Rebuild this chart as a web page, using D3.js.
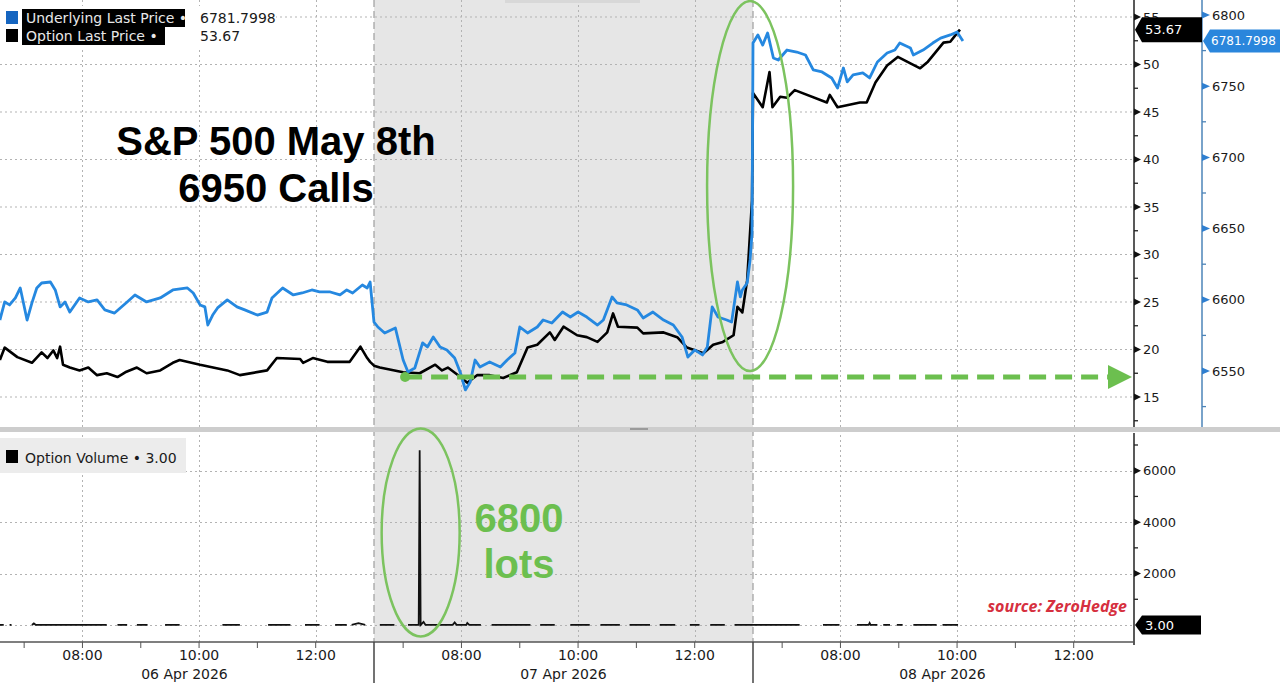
<!DOCTYPE html>
<html>
<head>
<meta charset="utf-8">
<script src="https://cdn.jsdelivr.net/npm/d3@7"></script>
<style>
  body { margin: 0; background: #fff; }
  svg { display: block; font-family: "DejaVu Sans", sans-serif; }
</style>
</head>
<body>
<svg id="chart" width="1280" height="683"></svg>
<script>
// ---- data (times are "MM-DD HH:MM", session runs 06:30-13:00 each day)
const days = ["06 Apr 2026", "07 Apr 2026", "08 Apr 2026"];
const hourTicks = [7, 8, 9, 10, 11, 12];
const hourLabels = ["08:00", "10:00", "12:00"];
const optionTicks = [15, 20, 25, 30, 35, 40, 45, 50, 55];
const underlyingTicks = [6550, 6600, 6650, 6700, 6750, 6800];
const volumeTicks = [2000, 4000, 6000];

const underlyingTime = [
  "04-06 06:35","04-06 06:40","04-06 06:45","04-06 06:51","04-06 06:56","04-06 07:03","04-06 07:08","04-06 07:13",
  "04-06 07:18","04-06 07:27","04-06 07:32","04-06 07:37","04-06 07:42","04-06 07:47","04-06 07:57","04-06 08:06",
  "04-06 08:15","04-06 08:23","04-06 08:33","04-06 08:46","04-06 08:54","04-06 09:06","04-06 09:20","04-06 09:33",
  "04-06 09:48","04-06 09:54","04-06 10:01","04-06 10:06","04-06 10:09","04-06 10:14","04-06 10:19","04-06 10:29",
  "04-06 10:39","04-06 10:47","04-06 11:00","04-06 11:10","04-06 11:15","04-06 11:26","04-06 11:37","04-06 11:46",
  "04-06 11:56","04-06 12:04","04-06 12:15","04-06 12:25","04-06 12:32","04-06 12:38","04-06 12:48","04-06 12:53",
  "04-06 12:56",
  "04-07 06:30","04-07 06:34","04-07 06:41","04-07 06:52","04-07 07:00","04-07 07:05","04-07 07:12","04-07 07:20",
  "04-07 07:25","04-07 07:31","04-07 07:38","04-07 07:45","04-07 07:53","04-07 07:59","04-07 08:04","04-07 08:09",
  "04-07 08:14","04-07 08:19","04-07 08:29","04-07 08:40","04-07 08:47","04-07 08:55","04-07 09:00","04-07 09:08",
  "04-07 09:18","04-07 09:24","04-07 09:33","04-07 09:44","04-07 09:52","04-07 10:00","04-07 10:09","04-07 10:20",
  "04-07 10:26","04-07 10:35","04-07 10:40","04-07 10:50","04-07 11:01","04-07 11:07","04-07 11:17","04-07 11:28",
  "04-07 11:38","04-07 11:47","04-07 11:53","04-07 12:00","04-07 12:08","04-07 12:13","04-07 12:18","04-07 12:24",
  "04-07 12:33","04-07 12:38","04-07 12:44","04-07 12:47","04-07 12:49","04-07 12:54","04-07 12:57","04-07 12:59",
  "04-08 06:30","04-08 06:35","04-08 06:40","04-08 06:45","04-08 06:51","04-08 06:56","04-08 07:05","04-08 07:15",
  "04-08 07:24","04-08 07:32","04-08 07:41","04-08 07:51","04-08 07:57","04-08 08:03","04-08 08:07","04-08 08:13",
  "04-08 08:23","04-08 08:30","04-08 08:38","04-08 08:48","04-08 08:56","04-08 09:01","04-08 09:12","04-08 09:15",
  "04-08 09:25","04-08 09:35","04-08 09:43","04-08 09:53","04-08 10:00","04-08 10:06"
];
const underlyingValue = [
  6585.8,6598.5,6596.4,6601.3,6608.3,6585.8,6597.8,6608.3,
  6611.8,6612.5,6606.9,6595.0,6598.5,6591.4,6601.3,6598.5,
  6599.9,6592.9,6590.7,6598.5,6603.4,6598.5,6601.3,6606.9,
  6608.3,6604.8,6596.4,6595.0,6582.3,6589.3,6594.3,6599.9,
  6595.0,6592.9,6589.3,6591.4,6601.3,6608.3,6603.4,6604.8,
  6606.9,6605.5,6605.5,6603.4,6606.9,6604.8,6610.4,6608.3,
  6612.5,
  6584.4,6580.9,6576.7,6580.2,6557.7,6549.3,6552.1,6569.7,
  6566.9,6573.9,6566.9,6564.8,6559.1,6548.6,6536.7,6542.3,
  6557.7,6552.8,6556.3,6552.8,6557.7,6562.7,6580.9,6576.7,
  6580.9,6585.8,6583.7,6591.4,6587.9,6591.4,6587.9,6582.3,
  6585.8,6602.0,6597.8,6596.4,6592.9,6587.2,6591.4,6585.8,
  6582.3,6573.9,6559.8,6564.8,6561.3,6566.9,6595.0,6587.9,
  6585.8,6584.4,6612.5,6602.0,6606.9,6611.8,6628.0,6646.9,
  6780.3,6786.0,6778.9,6787.4,6769.8,6768.4,6775.4,6774.0,
  6771.9,6761.4,6760.0,6755.8,6748.7,6762.8,6753.0,6757.9,
  6759.3,6755.8,6767.0,6773.3,6775.4,6780.3,6776.8,6771.9,
  6775.4,6780.3,6783.8,6786.0,6788.1,6781.7998
];

const optionTime = [
  "04-06 06:35","04-06 06:40","04-06 06:53","04-06 07:08","04-06 07:18","04-06 07:24","04-06 07:30","04-06 07:34",
  "04-06 07:37","04-06 07:40","04-06 07:47","04-06 07:57","04-06 08:06","04-06 08:15","04-06 08:25","04-06 08:36",
  "04-06 08:44","04-06 08:56","04-06 09:06","04-06 09:20","04-06 09:33","04-06 09:40","04-06 10:01","04-06 10:29",
  "04-06 10:42","04-06 11:10","04-06 11:20","04-06 11:44","04-06 11:47","04-06 11:57","04-06 12:12","04-06 12:35",
  "04-06 12:46","04-06 12:53","04-06 12:56",
  "04-07 06:30","04-07 06:36","04-07 07:00","04-07 07:17","04-07 07:33","04-07 07:40","04-07 07:46","04-07 07:59",
  "04-07 08:06","04-07 08:16","04-07 08:29","04-07 08:43","04-07 08:57","04-07 09:08","04-07 09:18","04-07 09:31",
  "04-07 09:36","04-07 09:45","04-07 09:59","04-07 10:09","04-07 10:20","04-07 10:30","04-07 10:36","04-07 10:41",
  "04-07 11:01","04-07 11:07","04-07 11:28","04-07 11:42","04-07 11:52","04-07 12:09","04-07 12:19","04-07 12:29",
  "04-07 12:40","04-07 12:44","04-07 12:49","04-07 12:54","04-07 12:59",
  "04-08 06:30","04-08 06:40","04-08 06:47","04-08 06:50","04-08 06:58","04-08 07:05","04-08 07:13","04-08 07:46",
  "04-08 07:49","04-08 07:57","04-08 08:20","04-08 08:27","04-08 08:36","04-08 08:48","04-08 08:59","04-08 09:22",
  "04-08 09:30","04-08 09:46","04-08 09:53","04-08 10:00","04-08 10:03"
];
const optionValue = [
  18.9,20.2,19.2,18.6,19.7,19.1,19.9,19.1,
  20.3,18.4,18.1,17.8,18.1,17.3,17.5,17.1,
  17.6,18.1,17.5,17.8,18.6,18.9,18.4,17.8,
  17.3,17.8,19.1,19.0,18.6,19.1,18.7,18.7,
  20.3,19.1,18.7,
  18.3,18.1,17.6,17.5,18.4,17.8,18.1,17.1,
  16.5,17.3,17.3,17.0,17.6,20.2,20.5,21.8,
  21.0,22.4,21.5,21.3,20.8,21.8,23.8,22.4,
  22.3,21.7,21.8,21.3,20.2,19.6,20.5,20.8,
  21.5,24.5,23.9,27.3,35.7,
  47.0,45.5,49.2,45.5,46.6,46.5,47.3,46.0,
  46.8,45.5,46.0,46.0,48.1,49.9,50.8,49.6,
  50.3,52.3,52.4,53.3,53.67
];

// null marks a gap (no trades)
const volumeTime = [
  "04-06 06:35","04-06 06:39",null,"04-06 06:45","04-06 06:47",null,
  "04-06 07:08","04-06 07:10","04-06 07:12","04-06 08:25",null,"04-06 08:36","04-06 08:46",null,
  "04-06 08:56","04-06 09:07",null,"04-06 09:25","04-06 09:40",null,"04-06 10:24","04-06 10:42",null,
  "04-06 11:11","04-06 11:34",null,"04-06 11:49","04-06 12:04",null,"04-06 12:20","04-06 12:32",null,
  "04-06 12:37","04-06 12:44","04-06 12:51",null,
  "04-07 06:36","04-07 06:51",null,"04-07 07:05","04-07 07:16","04-07 07:17","04-07 07:18","04-07 07:21",
  "04-07 07:23","04-07 07:51","04-07 07:53","04-07 07:55","04-07 08:05","04-07 08:06","04-07 08:08","04-07 08:20",null,
  "04-07 08:31","04-07 09:11",null,"04-07 09:21","04-07 09:36",null,"04-07 09:52","04-07 10:12",null,
  "04-07 10:23","04-07 10:43",null,"04-07 10:53","04-07 11:14",null,"04-07 11:24","04-07 11:40",null,
  "04-07 11:55","04-07 12:05",null,"04-07 12:16","04-07 12:31",null,"04-07 12:41","04-07 12:59",
  "04-08 06:30","04-08 07:18",null,"04-08 07:42","04-08 07:59",null,"04-08 08:17","04-08 08:29",
  "04-08 08:30","04-08 08:31","04-08 08:38",null,"04-08 08:44","04-08 08:51",null,"04-08 08:58","04-08 09:04",null,
  "04-08 09:15","04-08 09:39",null,"04-08 09:45","04-08 10:01"
];
const volumeValue = [
  3,3,null,3,3,null,
  3,60,3,3,null,3,3,null,
  3,3,null,3,3,null,3,3,null,
  3,3,null,3,3,null,3,3,null,
  3,70,3,null,
  3,3,null,3,3,6800,3,120,
  3,3,100,3,3,80,3,3,null,
  3,3,null,3,3,null,3,3,null,
  3,3,null,3,3,null,3,3,null,
  3,3,null,3,3,null,3,3,
  3,3,null,3,3,null,3,3,
  80,3,3,null,3,3,null,3,3,null,
  3,3,null,3,3
];

// ---- layout
const plotR = 1134;
const topY1 = 427, botY0 = 433, botY1 = 642;
const blue = "#2588e0", green = "#6cbf4f";

// session minutes: each day shows 06:30-13:00 (390 min), days stacked end to end
function sessionMin(s) {
  const d = +s.slice(3, 5), h = +s.slice(6, 8), m = +s.slice(9, 11);
  return (d - 6) * 390 + h * 60 + m - 390;
}

const x = d3.scaleLinear([0, 1170], [-5, 1132]);
const yO = d3.scaleLinear([15, 55], [397, 17]);
const yU = d3.scaleLinear([6550, 6800], [371, 15]);
const yV = d3.scaleLinear([0, 7000], [625, 445]);

const underlying = underlyingTime.map((t, i) => ({t: sessionMin(t), v: underlyingValue[i]}));
const option = optionTime.map((t, i) => ({t: sessionMin(t), v: optionValue[i]}));
const volume = volumeTime.map((t, i) => ({t: t ? sessionMin(t) : null, v: volumeValue[i]}));

const svg = d3.select("#chart");
const defs = svg.append("defs");
defs.append("clipPath").attr("id", "clipTop")
  .append("rect").attr("x", 0).attr("y", 0).attr("width", plotR).attr("height", topY1);
defs.append("clipPath").attr("id", "clipBot")
  .append("rect").attr("x", 0).attr("y", botY0).attr("width", plotR).attr("height", botY1 - botY0);

// shaded 07 Apr session
svg.append("rect")
  .attr("x", x(390)).attr("y", 0)
  .attr("width", x(780) - x(390)).attr("height", botY1)
  .attr("fill", "#e6e6e6");

// grid
const grid = svg.append("g").attr("stroke", "#b3b3b3").attr("stroke-dasharray", "2,3").attr("stroke-width", 1);
grid.selectAll(".hg").data(optionTicks).join("line")
  .attr("x1", 0).attr("x2", plotR)
  .attr("y1", d => yO(d)).attr("y2", d => yO(d));
grid.selectAll(".vg").data(volumeTicks.concat([0])).join("line")
  .attr("x1", 0).attr("x2", plotR)
  .attr("y1", d => Math.round(yV(d)) + 0.5).attr("y2", d => Math.round(yV(d)) + 0.5);
const vlines = [];
days.forEach((d, i) => [8, 10, 12].forEach(h => vlines.push(i * 390 + h * 60 - 390)));
grid.selectAll(".xg").data(vlines).join("line")
  .attr("x1", d => Math.round(x(d)) + 0.5).attr("x2", d => Math.round(x(d)) + 0.5)
  .attr("y1", 0).attr("y2", botY1);

// session boundaries
svg.append("g").selectAll("line").data([390, 780]).join("line")
  .attr("x1", d => x(d)).attr("x2", d => x(d))
  .attr("y1", 0).attr("y2", botY1)
  .attr("stroke", "#a5a5a5").attr("stroke-width", 1.3).attr("stroke-dasharray", "7,4");

// price lines
const topG = svg.append("g").attr("clip-path", "url(#clipTop)");
topG.append("path").datum(option)
  .attr("fill", "none").attr("stroke", "#000").attr("stroke-width", 2.6).attr("stroke-linejoin", "round")
  .attr("d", d3.line().x(d => x(d.t)).y(d => yO(d.v)));
topG.append("path").datum(underlying)
  .attr("fill", "none").attr("stroke", blue).attr("stroke-width", 2.8).attr("stroke-linejoin", "round")
  .attr("d", d3.line().x(d => x(d.t)).y(d => yU(d.v)));

// volume line
svg.append("g").attr("clip-path", "url(#clipBot)")
  .append("path").datum(volume)
  .attr("fill", "none").attr("stroke", "#111").attr("stroke-width", 1.8)
  .attr("d", d3.line().defined(d => d.v != null).x(d => x(d.t)).y(d => yV(d.v)));

// panel separator
svg.append("rect").attr("x", 0).attr("y", topY1).attr("width", 1280).attr("height", 5).attr("fill", "#cdcdcd");
svg.append("line").attr("x1", 630).attr("x2", 648).attr("y1", topY1 + 2).attr("y2", topY1 + 2)
  .attr("stroke", "#8a8a8a").attr("stroke-width", 1.5);
svg.append("rect").attr("x", 505).attr("y", 0).attr("width", 135).attr("height", 3).attr("fill", "#d8d8d8");

// ---- right axes
function tri(ax, y, len) { return `M${ax},${y - 3.5}L${ax + len},${y}L${ax},${y + 3.5}Z`; }
const axO = svg.append("g");
axO.append("line").attr("x1", plotR).attr("x2", plotR).attr("y1", 0).attr("y2", topY1).attr("stroke", "#222").attr("stroke-width", 1.5);
axO.selectAll(".minor").data(optionTicks.map(d => d - 2.5)).join("line")
  .attr("x1", plotR).attr("x2", plotR + 4).attr("y1", d => yO(d)).attr("y2", d => yO(d))
  .attr("stroke", "#222").attr("stroke-width", 1.3);
axO.selectAll("path").data(optionTicks).join("path").attr("d", d => tri(plotR, yO(d), 7)).attr("fill", "#111");
axO.selectAll("text").data(optionTicks).join("text")
  .attr("x", plotR + 9).attr("y", d => yO(d)).attr("dy", "0.36em")
  .attr("font-size", 13).attr("fill", "#1a1a1a").text(d => d);

const axU = svg.append("g");
const axUx = 1202;
axU.append("line").attr("x1", axUx).attr("x2", axUx).attr("y1", 0).attr("y2", topY1).attr("stroke", "#4c84b8").attr("stroke-width", 1.5);
axU.selectAll(".minor").data(underlyingTicks.map(d => d - 25)).join("line")
  .attr("x1", axUx).attr("x2", axUx + 4).attr("y1", d => yU(d)).attr("y2", d => yU(d))
  .attr("stroke", "#4c84b8").attr("stroke-width", 1.3);
axU.selectAll("path").data(underlyingTicks).join("path").attr("d", d => tri(axUx, yU(d), 8)).attr("fill", "#2f7fd0");
axU.selectAll("text").data(underlyingTicks).join("text")
  .attr("x", axUx + 10).attr("y", d => yU(d)).attr("dy", "0.36em")
  .attr("font-size", 13).attr("fill", "#1a1a1a").text(d => d);

const axV = svg.append("g");
axV.append("line").attr("x1", plotR).attr("x2", plotR).attr("y1", botY0).attr("y2", botY1 + 3).attr("stroke", "#222").attr("stroke-width", 1.5);
axV.selectAll(".minor").data([1000, 3000, 5000, 7000]).join("line")
  .attr("x1", plotR).attr("x2", plotR + 4).attr("y1", d => yV(d)).attr("y2", d => yV(d))
  .attr("stroke", "#222").attr("stroke-width", 1.3);
axV.selectAll("path").data(volumeTicks).join("path").attr("d", d => tri(plotR, yV(d), 7)).attr("fill", "#111");
axV.selectAll("text").data(volumeTicks).join("text")
  .attr("x", plotR + 9).attr("y", d => yV(d)).attr("dy", "0.36em")
  .attr("font-size", 13).attr("fill", "#1a1a1a").text(d => d);

// last-value tags
function tag(ax, y, w, h, fill, label, fs, pad) {
  const g = svg.append("g");
  g.append("path")
    .attr("d", `M${ax},${y}L${ax + 7},${y - h / 2}L${ax + w},${y - h / 2}L${ax + w},${y + h / 2}L${ax + 7},${y + h / 2}Z`)
    .attr("fill", fill);
  g.append("text").attr("x", ax + pad).attr("y", y).attr("dy", "0.36em")
    .attr("font-size", fs).attr("fill", "#fff").text(label);
}
tag(plotR + 1, yO(optionValue[optionValue.length - 1]), 67, 25, "#000", "53.67", 13, 10);
tag(axUx + 1, yU(underlyingValue[underlyingValue.length - 1]), 80, 23, "#2a86dc", "6781.7998", 12, 8);
tag(plotR + 1, yV(3), 66, 19, "#000", "3.00", 13, 10);

// ---- x axis
const xa = svg.append("g");
xa.append("line").attr("x1", 0).attr("x2", plotR).attr("y1", botY1).attr("y2", botY1).attr("stroke", "#555").attr("stroke-width", 1.5);
const ticks = [];
days.forEach((d, i) => hourTicks.forEach(h => ticks.push(i * 390 + h * 60 - 390)));
xa.selectAll(".tk").data(ticks).join("line")
  .attr("x1", d => x(d)).attr("x2", d => x(d)).attr("y1", botY1).attr("y2", botY1 + 6)
  .attr("stroke", "#555");
const labs = [];
days.forEach((d, i) => hourLabels.forEach(h => labs.push({t: i * 390 + (+h.slice(0, 2)) * 60 - 390, s: h})));
xa.selectAll(".hl").data(labs).join("text")
  .attr("x", d => x(d.t)).attr("y", 660).attr("text-anchor", "middle")
  .attr("font-size", 14).attr("fill", "#1a1a1a").text(d => d.s);
xa.selectAll(".sep").data([390, 780]).join("line")
  .attr("x1", d => x(d)).attr("x2", d => x(d)).attr("y1", botY1).attr("y2", 683)
  .attr("stroke", "#444").attr("stroke-width", 1.5);
xa.selectAll(".dl").data(days).join("text")
  .attr("x", (d, i) => x(i * 390 + 195)).attr("y", 679).attr("text-anchor", "middle")
  .attr("font-size", 14).attr("fill", "#1a1a1a").text(d => d);

// ---- legends
const leg = svg.append("g").attr("font-size", 14);
leg.append("rect").attr("x", 0).attr("y", 6).attr("width", 276).attr("height", 42).attr("fill", "#fff");
leg.append("rect").attr("x", 6).attr("y", 11).attr("width", 12).attr("height", 13).attr("fill", "#1565c0");
leg.append("rect").attr("x", 22).attr("y", 9).attr("width", 163).attr("height", 18).attr("fill", "#000");
leg.append("text").attr("x", 26).attr("y", 23).attr("fill", "#e8e8e8").text("Underlying Last Price \u2022");
leg.append("text").attr("x", 200).attr("y", 23).attr("fill", "#1a1a1a").text("6781.7998");
leg.append("rect").attr("x", 6).attr("y", 29).attr("width", 12).attr("height", 13).attr("fill", "#000");
leg.append("rect").attr("x", 22).attr("y", 27).attr("width", 143).attr("height", 18).attr("fill", "#000");
leg.append("text").attr("x", 26).attr("y", 41).attr("fill", "#e8e8e8").text("Option Last Price \u2022");
leg.append("text").attr("x", 200).attr("y", 41).attr("fill", "#1a1a1a").text("53.67");

const leg2 = svg.append("g").attr("font-size", 14);
leg2.append("rect").attr("x", 0).attr("y", 438).attr("width", 186).attr("height", 35).attr("fill", "#ececec");
leg2.append("rect").attr("x", 6).attr("y", 450).attr("width", 12).attr("height", 13).attr("fill", "#000");
leg2.append("text").attr("x", 25).attr("y", 463).attr("fill", "#1a1a1a").text("Option Volume \u2022 3.00");

// ---- annotations
svg.append("g").attr("font-family", "'Liberation Sans', Arial, sans-serif").attr("font-weight", "bold")
  .attr("font-size", 40).attr("text-anchor", "middle").attr("fill", "#000")
  .selectAll("text").data(["S&P 500 May 8th", "6950 Calls"]).join("text")
  .attr("x", 276).attr("y", (d, i) => 155 + i * 47).text(d => d);

const ann = svg.append("g");
ann.append("line")
  .attr("x1", x(422)).attr("x2", 1112).attr("y1", yO(17.1)).attr("y2", yO(17.1))
  .attr("stroke", green).attr("stroke-width", 5).attr("stroke-dasharray", "17,9");
ann.append("path")
  .attr("d", `M1108,${yO(17.1) - 12}L1132,${yO(17.1)}L1108,${yO(17.1) + 12}Z`).attr("fill", green);
ann.append("circle").attr("cx", x(422)).attr("cy", yO(17.1)).attr("r", 5).attr("fill", green);
ann.append("ellipse").attr("cx", x(777)).attr("cy", yO(37.2)).attr("rx", 43).attr("ry", 185)
  .attr("fill", "none").attr("stroke", "#7cc35f").attr("stroke-width", 2.5);
ann.append("ellipse").attr("cx", x(438)).attr("cy", yV(3600)).attr("rx", 39).attr("ry", 104)
  .attr("fill", "none").attr("stroke", "#7cc35f").attr("stroke-width", 2.5);
ann.append("g").attr("font-family", "'Liberation Sans', Arial, sans-serif").attr("font-weight", "bold")
  .attr("font-size", 40).attr("text-anchor", "middle").attr("fill", green)
  .selectAll("text").data(["6800", "lots"]).join("text")
  .attr("x", 519).attr("y", (d, i) => 532 + i * 46).text(d => d);
ann.append("text").attr("x", 1127).attr("y", 612).attr("text-anchor", "end")
  .attr("font-family", "'Open Sans', sans-serif").attr("font-weight", "bold").attr("font-style", "italic")
  .attr("font-size", 16).attr("fill", "#d6303f").text("source: ZeroHedge");
</script>
</body>
</html>
